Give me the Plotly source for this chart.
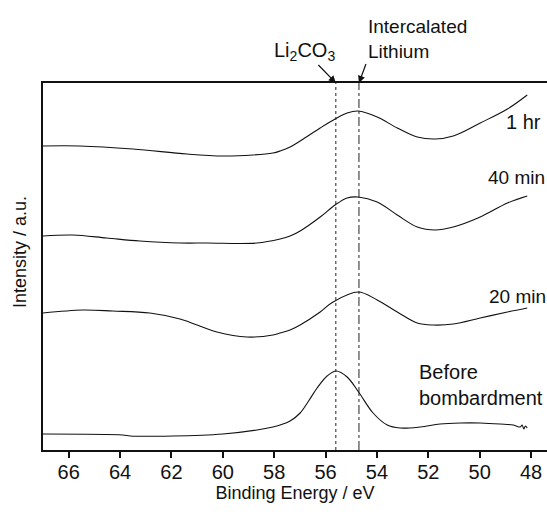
import plotly.graph_objects as go

# Binding energy (eV) / intensity (a.u.)
e_1hr = [67.0, 65.57, 63.50, 61.40, 60.00, 58.83, 58.05, 57.77, 57.38, 56.99, 56.21, 55.63, 55.16, 54.73,
         53.99, 53.21, 52.43, 51.73, 51.03, 49.98, 48.92, 48.15]
i_1hr = [304, 304, 301, 296, 294, 295, 297, 299, 303, 309, 322, 331, 337, 339,
         333, 322, 313, 311, 314, 327, 341, 355]

e_40 = [67.0, 65.84, 64.52, 63.23, 61.67, 60.62, 58.67, 57.77, 57.38, 56.99, 56.21, 55.63, 55.16, 54.73,
        53.99, 53.21, 52.43, 51.73, 51.03, 49.98, 48.92, 48.15]
i_40 = [214, 215, 212, 209, 207, 207, 207, 211, 214, 219, 233, 245, 252, 253,
        248, 235, 223, 220, 223, 233, 247, 254]

e_20 = [67.0, 65.45, 64.28, 62.84, 61.67, 60.23, 59.06, 58.05, 57.77, 57.38, 56.99, 56.21, 55.71, 54.73,
        53.99, 53.21, 52.43, 51.81, 51.03, 49.98, 48.92, 48.15]
i_20 = [137, 140, 139, 137, 131, 118, 113, 115, 117, 120, 125, 138, 148, 158,
        150, 138, 127, 125, 126, 132, 138, 142]

e_before = [67.0, 63.89, 63.60, 61.95, 60.00, 58.67, 58.05, 57.77, 57.38, 56.99, 56.66, 56.33, 55.94, 55.59,
            55.16, 54.69, 54.15, 53.60, 53.10, 52.32, 51.54, 50.76, 49.98, 49.20, 48.69, 48.42, 48.35,
            48.28, 48.22, 48.15]
i_before = [16, 15, 14, 14, 16, 20, 23, 25, 29, 37, 49, 62, 74, 79,
            73, 57, 37, 25, 22, 23, 26, 27, 27, 26, 25, 23, 25,
            21, 24, 22]

series = [("1 hr", e_1hr, i_1hr), ("40 min", e_40, i_40), ("20 min", e_20, i_20),
          ("Before bombardment", e_before, i_before)]

# Reference peak positions (eV)
peak_names = ["Li<sub>2</sub>CO<sub>3</sub>", "Intercalated<br>Lithium"]
peak_energies = [55.6, 54.7]
peak_dash = ["dot", "dashdot"]

x_ticks = [66, 64, 62, 60, 58, 56, 54, 52, 50, 48]

FONT = "Liberation Sans, Arial, sans-serif"
INK = "#111111"

fig = go.Figure()
for name, e, i in series:
    fig.add_trace(go.Scatter(x=e, y=i, mode="lines", name=name,
                             line=dict(color=INK, width=1.1, shape="spline", smoothing=1.0),
                             showlegend=False, hoverinfo="skip"))

for pe, dsh in zip(peak_energies, peak_dash):
    fig.add_shape(type="line", xref="x", yref="paper", x0=pe, x1=pe, y0=0, y1=1,
                  line=dict(color="#222222", width=1, dash=dsh))

ann = []
# curve labels
for x, y, t, s in [(49.05, 328, "1 hr", 20), (49.75, 273, "40 min", 19), (49.72, 154, "20 min", 19),
                   (52.43, 65, "Before<br>bombardment", 20)]:
    ann.append(dict(x=x, y=y, text=t, xref="x", yref="y", xanchor="left", yanchor="middle",
                    showarrow=False, align="left", font=dict(family=FONT, size=s, color=INK)))

# peak labels with arrows pointing at the peak lines
ann.append(dict(x=peak_energies[0], y=1, xref="x", yref="paper", ax=-31, ay=-32,
                text=peak_names[0], showarrow=True, arrowhead=2, arrowsize=1.2, arrowwidth=1.2,
                arrowcolor=INK, xanchor="center", yanchor="middle",
                font=dict(family=FONT, size=20, color=INK)))
ann.append(dict(x=peak_energies[1], y=1, xref="x", yref="paper", ax=7, ay=-19,
                text=peak_names[1], showarrow=True, arrowhead=2, arrowsize=1.2, arrowwidth=1.2,
                arrowcolor=INK, xanchor="left", yanchor="bottom", align="left",
                font=dict(family=FONT, size=19, color=INK)))
# y axis title
ann.append(dict(x=(20 - 43) / 504, y=(450 - 252) / 367, xref="paper", yref="paper", text="Intensity / a.u.",
                showarrow=False, textangle=-90, xanchor="center", yanchor="middle",
                font=dict(family=FONT, size=18, color=INK)))

fig.update_layout(
    width=547, height=517,
    margin=dict(l=43, r=0, t=83, b=67),
    plot_bgcolor="white", paper_bgcolor="white",
    annotations=ann,
    xaxis=dict(range=[67, 47.38], tickvals=x_ticks, ticktext=[str(t) for t in x_ticks],
               showline=True, linecolor=INK, linewidth=2, mirror=True,
               ticks="outside", ticklen=6, tickwidth=2, tickcolor=INK,
               showgrid=False, zeroline=False, ticklabelstandoff=-3,
               tickfont=dict(family=FONT, size=20, color=INK),
               title=dict(text="Binding Energy / eV", font=dict(family=FONT, size=18, color=INK), standoff=2)),
    yaxis=dict(range=[0, 367], showline=True, linecolor=INK, linewidth=2, mirror=False,
               showticklabels=False, ticks="", showgrid=False, zeroline=False),
)

fig.write_html("out.html")
